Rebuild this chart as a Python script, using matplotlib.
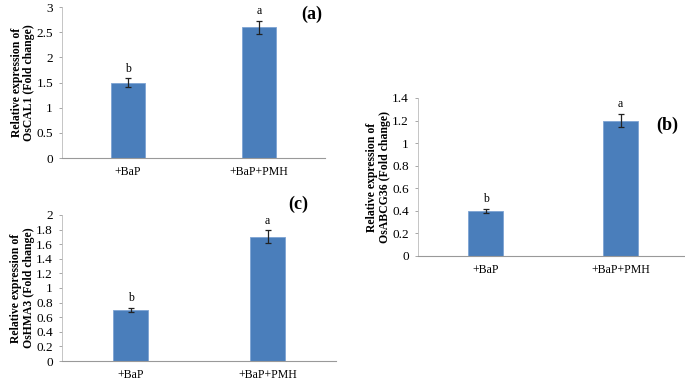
import numpy as np
import matplotlib
matplotlib.use('Agg')
import matplotlib.pyplot as plt

# Data
groups = ['+BaP', '+BaP+PMH']

cal1_vals = [1.5, 2.6]
cal1_err = [0.08, 0.13]
cal1_sig = ['b', 'a']

abcg36_vals = [0.4, 1.2]
abcg36_err = [0.02, 0.06]
abcg36_sig = ['b', 'a']

hma3_vals = [0.7, 1.7]
hma3_err = [0.03, 0.09]
hma3_sig = ['b', 'a']

plt.rcParams['font.family'] = ['Liberation Serif', 'DejaVu Serif']

W, H = 685, 381
fig = plt.figure(figsize=(W / 100, H / 100), dpi=100)

BAR = '#4a7ebb'


def panel(box, vals, errs, sig, ymax, step, gene, tag, tag_xy):
    l, r, t, b = box
    ax = fig.add_axes([l / W, 1 - b / H, (r - l) / W, (b - t) / H])
    x = np.arange(len(vals))
    ax.bar(x, vals, width=0.26, color=BAR, edgecolor='#7da3d3', linewidth=0.6,
           yerr=errs, error_kw=dict(ecolor='#222222', elinewidth=0.9, capsize=2.2, capthick=0.9))
    for xi, v, e, s in zip(x, vals, errs, sig):
        ax.text(xi, v + e + ymax * 0.025, s, ha='center', va='bottom', fontsize=8.5)
    ax.set_xlim(-0.5, 1.5)
    ax.set_ylim(0, ymax)
    ticks = np.round(np.arange(0, ymax + step / 2, step), 2)
    ax.set_yticks(ticks)
    ax.set_yticklabels(['%g' % v for v in ticks], fontsize=9.5)
    ax.set_xticks(x)
    ax.set_xticklabels(groups, fontsize=8.5)
    ax.tick_params(axis='x', length=0, pad=6)
    ax.tick_params(axis='y', length=2.5, width=0.6, color='#999999', pad=4)
    for side in ['top', 'right']:
        ax.spines[side].set_visible(False)
    ax.spines['left'].set_color('#bbbbbb')
    ax.spines['bottom'].set_color('#999999')
    ax.spines['left'].set_linewidth(0.6)
    ax.spines['bottom'].set_linewidth(0.8)
    ax.set_ylabel('Relative expression of\n' + gene + ' (Fold change)',
                  fontsize=8.5, fontweight='bold', labelpad=1, linespacing=1.05)
    fig.text(tag_xy[0] / W, 1 - tag_xy[1] / H, tag, fontsize=13, fontweight='bold',
             ha='center', va='center')
    return ax


panel((62, 325, 7, 158), cal1_vals, cal1_err, cal1_sig, 3, 0.5, 'OsCAL1', '(a)', (312, 14))
panel((62, 336, 215, 361), hma3_vals, hma3_err, hma3_sig, 2, 0.2, 'OsHMA3', '(c)', (298, 204))
panel((418, 688, 98, 256), abcg36_vals, abcg36_err, abcg36_sig, 1.4, 0.2, 'OsABCG36', '(b)', (667, 125))

fig.savefig('out.png', dpi=100)
